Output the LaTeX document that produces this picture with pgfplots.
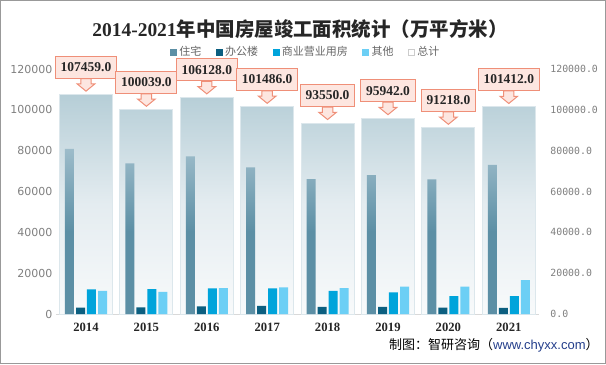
\documentclass[border=0pt]{standalone}
\usepackage{fontspec}
\usepackage{pgfplots}
\pgfplotsset{compat=1.18}
\newfontfamily\cjk{Noto Sans CJK SC}
\newfontfamily\lserif{Liberation Serif}
\newfontfamily\lsans{Liberation Sans}
\newfontfamily\dejavu{DejaVu Sans}
\newfontfamily\dmono{DejaVu Sans Mono}
\definecolor{resTop}{HTML}{9DBCCA}
\definecolor{resBot}{HTML}{5C8FA5}
\definecolor{offc}{HTML}{0C5F80}
\definecolor{comc}{HTML}{00A4DB}
\definecolor{othc}{HTML}{6CCFF5}
\definecolor{totTop}{HTML}{B6CED7}
\definecolor{totMid}{HTML}{E4ECF0}
\definecolor{totBot}{HTML}{F8FAFB}
\definecolor{totBorder}{HTML}{DCE7EC}
\definecolor{calFill}{HTML}{FDE6E0}
\definecolor{calDraw}{HTML}{EF8F78}
\definecolor{tickgray}{HTML}{7F7F7F}
\definecolor{leggray}{HTML}{666666}
\definecolor{urlblue}{HTML}{233E8B}
\pgfdeclareplotmark{callout}{%
  \pgfpathmoveto{\pgfpoint{-3.9pt}{12pt}}%
  \pgfpathlineto{\pgfpoint{-3.9pt}{8pt}}%
  \pgfpathlineto{\pgfpoint{-6.6pt}{8pt}}%
  \pgfpathlineto{\pgfpoint{0pt}{2.6pt}}%
  \pgfpathlineto{\pgfpoint{6.6pt}{8pt}}%
  \pgfpathlineto{\pgfpoint{3.9pt}{8pt}}%
  \pgfpathlineto{\pgfpoint{3.9pt}{12pt}}%
  \pgfpathclose
  \pgfusepathqfillstroke}
\begin{document}
\begin{tikzpicture}
\useasboundingbox (0,0) rectangle (454.5pt,-273pt);
\draw[line width=0.75pt, color=black!40] (0.375pt,-0.375pt) rectangle (454.125pt,-272.625pt);
\node[font={\fontsize{14.6}{16}\selectfont}, text=black!85] at (225pt,-21.5pt)
  {{\lserif\bfseries 2014-2021}{\cjk\bfseries 年中国房屋竣工面积统计（万平方米）}};
\node[anchor=east, font={\fontsize{9.75}{11}\selectfont}] at (452.5pt,-258.75pt)
  {\cjk 制图：智研咨询（{\lsans\color{urlblue}www.chyxx.com}\cjk ）};
\begin{axis}[
  at={(41.85pt,-235.5pt)}, anchor=south west,
  scale only axis, width=362.4pt, height=183.75pt,
  xmin=-0.5, xmax=7.5, ymin=0, ymax=120000,
  clip=false,
  axis x line*=bottom, axis y line*=left,
  x axis line style={draw=black!15, line width=0.75pt, -},
  y axis line style={draw=none},
  major tick length=0pt,
  xtick={0,1,2,3,4,5,6,7},
  xticklabels={2014,2015,2016,2017,2018,2019,2020,2021},
  xticklabel style={font={\lserif\bfseries\fontsize{9.5}{11}\selectfont}, text=black!85, yshift=-3pt},
  ytick={0,20000,40000,60000,80000,100000,120000},
  scaled y ticks=false,
  /pgf/number format/assume math mode=true,
  /pgf/number format/.cd, fixed, 1000 sep={}, /pgfplots/.cd,
  yticklabel style={font={\dejavu\fontsize{8.25}{10}\selectfont}, text=tickgray, xshift=1pt},
  legend style={at={(0.518,1.069)}, anchor=center, draw=none, fill=none,
    legend columns=-1, font={\cjk\fontsize{8.25}{10}\selectfont}, text=leggray,
    /tikz/every even column/.append style={column sep=9pt},
    inner sep=0pt},
  legend cell align=left,
  legend image code/.code={\draw[#1] (0pt,-2.2pt) rectangle (4.4pt,2.2pt);},
]
\addlegendimage{fill=resBot, draw=resBot}
\addlegendentry{住宅}
\addlegendimage{fill=offc, draw=offc}
\addlegendentry{办公楼}
\addlegendimage{fill=comc, draw=comc}
\addlegendentry{商业营业用房}
\addlegendimage{fill=othc, draw=othc}
\addlegendentry{其他}
\addlegendimage{fill=white, draw=black!20}
\addlegendentry{总计}
% total
\addplot[forget plot, ybar, bar width=39.75pt, bar shift=0pt, draw=totBorder, line width=0.75pt,
  top color=totTop, bottom color=totBot, middle color=totMid] coordinates {
  (0,107459) (1,100039) (2,106128) (3,101486) (4,93550) (5,95942) (6,91218) (7,101412)};
% residential
\addplot[forget plot, ybar, bar width=6.75pt, bar shift=-12.4pt, draw=none,
  top color=resTop, bottom color=resBot, middle color=resBot] coordinates {
  (0,80868) (1,73777) (2,77185) (3,71815) (4,66016) (5,68011) (6,65910) (7,73016)};
% office
\addplot[forget plot, ybar, bar width=6.75pt, bar shift=-4.1pt, draw=none, fill=offc] coordinates {
  (0,3144) (1,3190) (2,3715) (3,4040) (4,3500) (5,3470) (6,3080) (7,3050)};
% commercial
\addplot[forget plot, ybar, bar width=6.75pt, bar shift=4.1pt, draw=none, fill=comc] coordinates {
  (0,12084) (1,12213) (2,12600) (3,12550) (4,11300) (5,10600) (6,8800) (7,8800)};
% others
\addplot[forget plot, ybar, bar width=6.75pt, bar shift=12.4pt, draw=none, fill=othc] coordinates {
  (0,11363) (1,10859) (2,12628) (3,13081) (4,12734) (5,13400) (6,13428) (7,16546)};
% callouts
\addplot[forget plot, only marks, mark=callout,
  mark options={fill=calFill, draw=calDraw, line width=0.75pt},
  point meta=explicit symbolic,
  nodes near coords,
  nodes near coords style={anchor=south, yshift=12pt, fill=calFill, draw=calDraw,
    line width=0.75pt, inner xsep=4pt, inner ysep=0pt, minimum height=16.5pt,
    font={\lserif\bfseries\fontsize{10.1}{12}\selectfont}, text=black!85}]
  coordinates {
  (0,107459) [107459.0] (1,100039) [100039.0] (2,106128) [106128.0] (3,101486) [101486.0]
  (4,93550) [93550.0] (5,95942) [95942.0] (6,91218) [91218.0] (7,101412) [101412.0]};
\end{axis}
\begin{axis}[
  at={(41.85pt,-235.5pt)}, anchor=south west,
  scale only axis, width=362.4pt, height=183.75pt,
  xmin=-0.5, xmax=7.5, ymin=0, ymax=120000,
  axis x line=none, axis y line*=right,
  y axis line style={draw=none},
  major tick length=0pt,
  ytick={0,20000,40000,60000,80000,100000,120000},
  scaled y ticks=false,
  /pgf/number format/assume math mode=true,
  /pgf/number format/.cd, fixed, fixed zerofill, precision=1, 1000 sep={}, /pgfplots/.cd,
  yticklabel style={font={\dmono\fontsize{7.4}{9}\selectfont}, text=tickgray, xshift=5pt},
]
\end{axis}
\end{tikzpicture}
\end{document}
